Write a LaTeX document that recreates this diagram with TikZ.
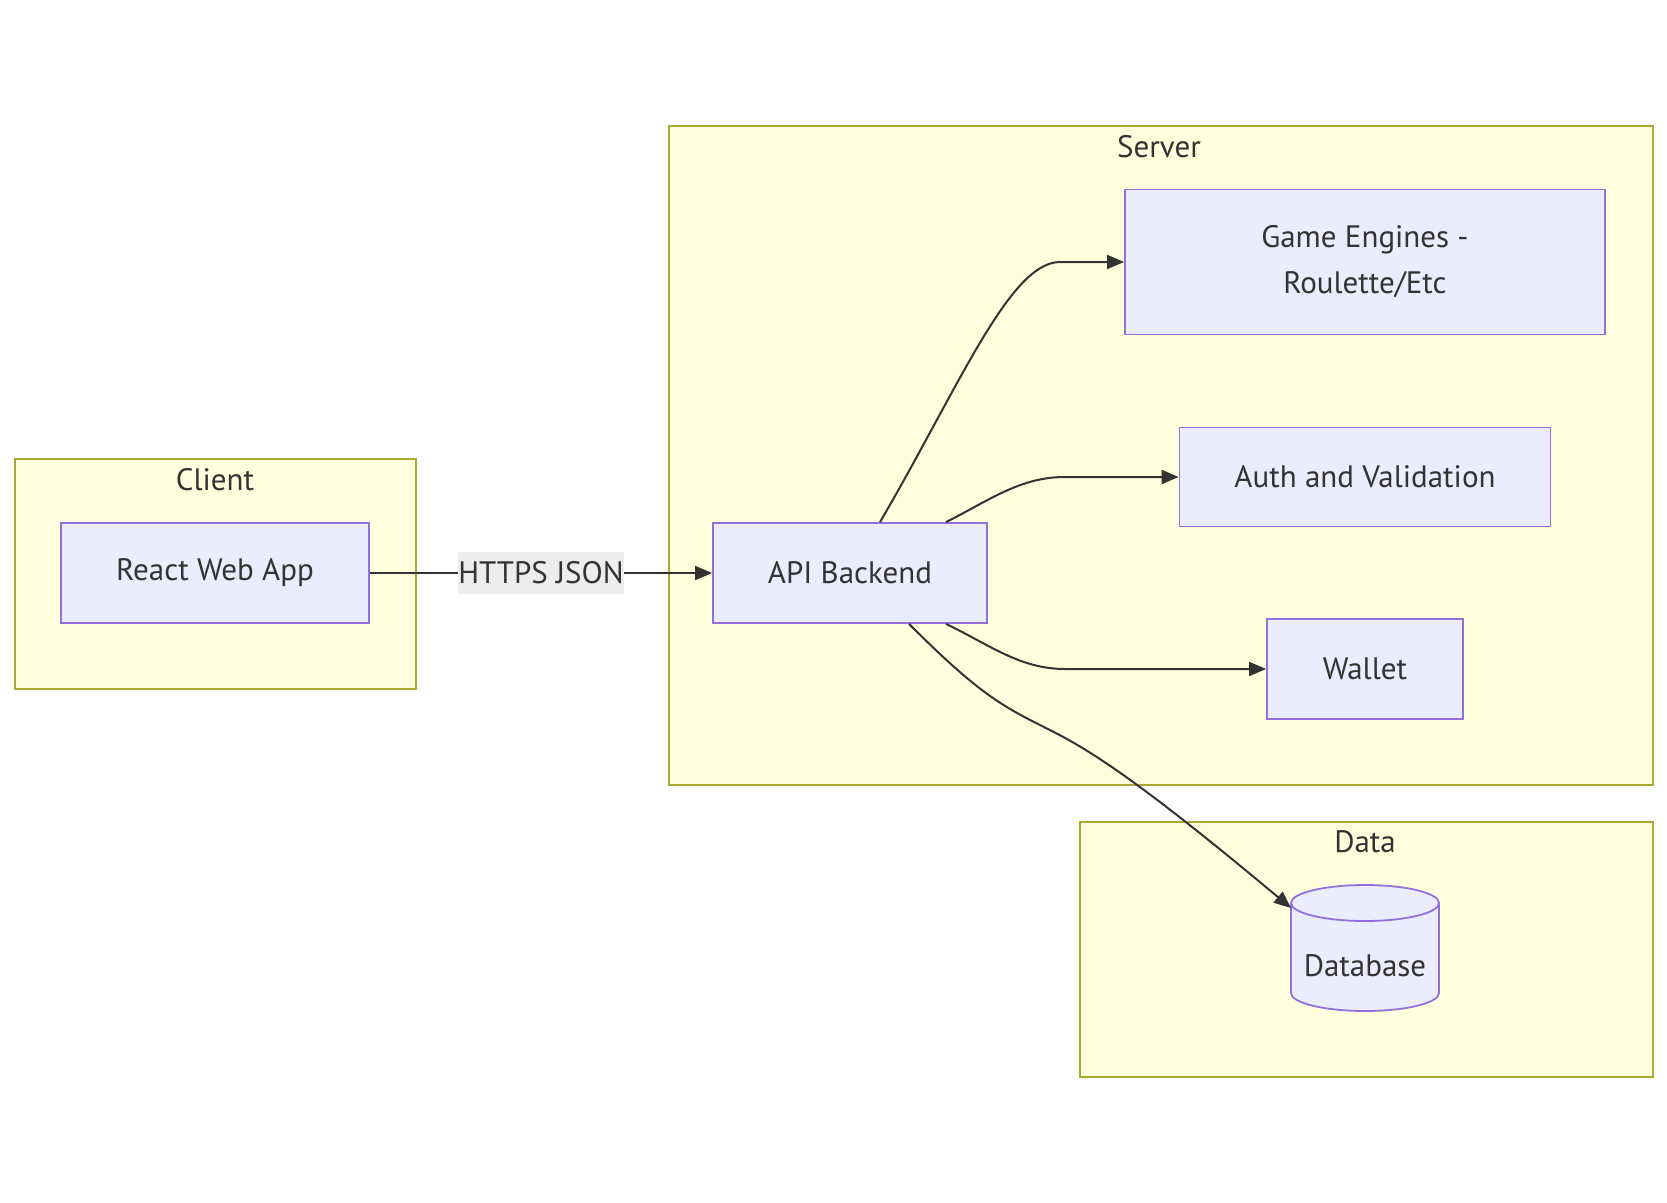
\documentclass[tikz,border=0pt]{standalone}
\usepackage{fontspec}
\setmainfont{PT Sans}
\usetikzlibrary{arrows.meta,calc}
\definecolor{nodefill}{HTML}{ECECFF}
\definecolor{nodeline}{HTML}{9370DB}
\definecolor{clusterfill}{HTML}{FFFFDE}
\definecolor{clusterline}{HTML}{AAAA33}
\definecolor{edgecol}{HTML}{333333}
\definecolor{txt}{HTML}{333333}
\definecolor{lblbg}{HTML}{EDEDED}
\begin{document}
\begin{tikzpicture}[x=1pt,y=1pt,
  every node/.style={font=\fontsize{31}{46}\selectfont, text=txt},
  cluster/.style={draw=clusterline, fill=clusterfill, line width=1.8pt, inner sep=0pt, anchor=north west},
  box/.style={draw=nodeline, fill=nodefill, line width=1.8pt, inner sep=0pt, align=center},
  edge/.style={draw=edgecol, line width=2pt, -{Triangle[length=17pt,width=14pt]}},
  lbl/.style={fill=lblbg, inner xsep=0pt, inner ysep=0pt, minimum height=42pt},
  cyl/.style={draw=nodeline, fill=nodefill, line width=1.8pt}
]
\useasboundingbox (0,0) rectangle (1667,-1202);
% clusters
\node[cluster, minimum width=401pt, minimum height=230pt] (client) at (14,-458) {};
\node[cluster, minimum width=984pt, minimum height=659pt] (server) at (668,-125) {};
\node[cluster, minimum width=573pt, minimum height=255pt] (data) at (1079,-821) {};
\node (clientlbl) at (215,-480) {Client};
\node (serverlbl) at (1159,-147) {Server};
\node (datalbl) at (1365,-842) {Data};
% nodes
\node[box, minimum width=308pt, minimum height=100pt] (react) at (215,-573) {React Web App};
\node[box, minimum width=274pt, minimum height=100pt] (api) at (850,-573) {API Backend};
\node[box, minimum width=480pt, minimum height=145pt] (game) at (1365,-262) {Game Engines -\\ Roulette/Etc};
\node[box, minimum width=371pt, minimum height=99pt] (auth) at (1365,-477) {Auth and Validation};
\node[box, minimum width=196pt, minimum height=100pt] (wallet) at (1365,-669) {Wallet};
% database cylinder
\path[cyl] (1291,-903) -- (1291,-993) arc (180:360:74pt and 18pt) -- (1439,-903) arc (0:180:74pt and 18pt) -- cycle;
\draw[cyl, fill=none] (1291,-903) arc (180:360:74pt and 18pt);
\node (db) at (1365,-966) {Database};
\coordinate (dbtip) at (1291,-908);
% edges
\draw[edge] (react) -- node[lbl] {HTTPS JSON} (api);
\draw[edge] ($(api.north)+(30,0)$) .. controls (960,-385) and (1010,-262) .. (1060,-262) -- (game.west);
\draw[edge] ($(api.north)+(96,0)$) .. controls (990,-500) and (1020,-477) .. (1065,-477) -- (auth.west);
\draw[edge] ($(api.south)+(96,0)$) .. controls (990,-645) and (1020,-669) .. (1065,-669) -- (wallet.west);
\draw[edge] ($(api.south)+(59,0)$) .. controls (975,-690) and (1000,-705) .. (1040,-725) .. controls (1080,-745) and (1120,-765) .. (dbtip);
\end{tikzpicture}
\end{document}
